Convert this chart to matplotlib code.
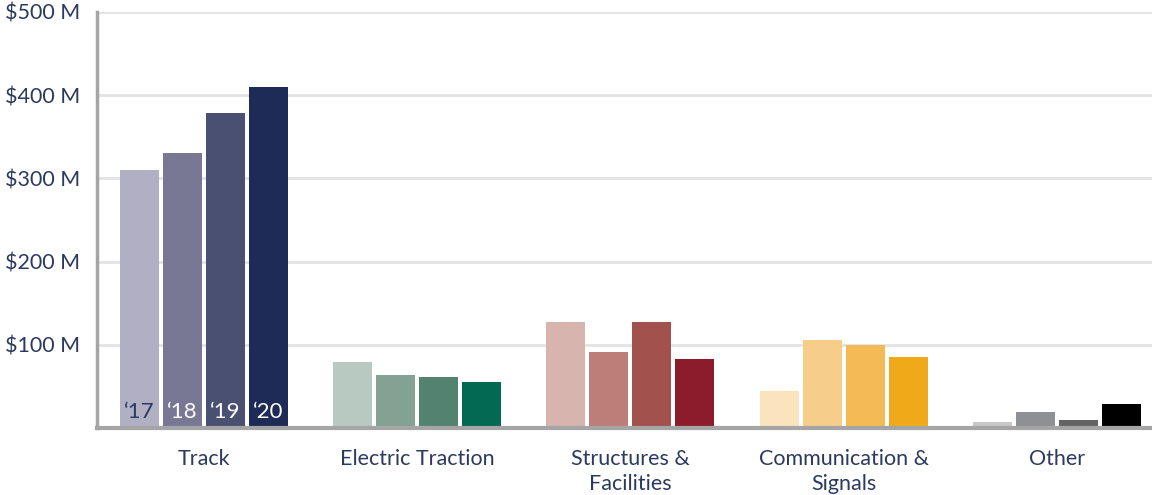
import matplotlib
matplotlib.use("Agg")
import matplotlib.pyplot as plt
import numpy as np

categories = ["Track", "Electric Traction", "Structures &\nFacilities", "Communication &\nSignals", "Other"]
years = ["\u201817", "\u201818", "\u201819", "\u201820"]
track = [310, 330, 379, 410]
electric = [80, 64, 62, 55]
structures = [127, 91, 128, 83]
communication = [45, 106, 100, 85]
other = [8, 20, 10, 29]
values = [track, electric, structures, communication, other]

colors = [
    ["#b1afc3", "#797894", "#4a5072", "#1e2b57"],
    ["#b8c9c2", "#84a294", "#538370", "#036953"],
    ["#d8b4ae", "#bc7f77", "#a3514c", "#8c1b2b"],
    ["#fbe3bd", "#f7cd8a", "#f3ba55", "#f0a918"],
    ["#c8c8c8", "#8f9093", "#636363", "#000000"],
]
yticks = [100, 200, 300, 400, 500]
ytick_labels = ["$100 M", "$200 M", "$300 M", "$400 M", "$500 M"]

text_color = "#2b3a5e"
plt.rcParams["font.family"] = ["Lato", "DejaVu Sans"]

fig = plt.figure(figsize=(11.52, 4.95), dpi=100)
ax = fig.add_axes([0.0842, 0.135, 0.926, 0.841])

step = 0.2016
width = 0.183
x = np.arange(len(categories))
for i, vals in enumerate(values):
    for j, v in enumerate(vals):
        xpos = x[i] + (j - 1.5) * step
        ax.bar(xpos, v, width=width, color=colors[i][j], zorder=3)
        if i == 0:
            ax.text(xpos, 7, years[j], ha="center", va="bottom", fontsize=16,
                    color=text_color if j == 0 else "white", zorder=4)

ax.set_xlim(-0.5, len(categories) - 0.5)
ax.set_ylim(0, 500)
ax.set_yticks(yticks)
ax.set_yticklabels(ytick_labels)
ax.set_xticks(x)
ax.set_xticklabels(categories)
ax.tick_params(axis="both", length=0, labelsize=15.5, colors=text_color)
ax.tick_params(axis="y", pad=12)
ax.tick_params(axis="x", pad=15)
for lbl in ax.get_xticklabels():
    lbl.set_verticalalignment("top")
    lbl.set_linespacing(1.3)
for lbl in ax.get_yticklabels():
    lbl.set_horizontalalignment("right")

ax.grid(axis="y", color="#e3e3e3", linewidth=2, zorder=0)
for s in ["top", "right"]:
    ax.spines[s].set_visible(False)
ax.spines["left"].set_color("#a5a5a5")
ax.spines["left"].set_linewidth(2.5)
ax.spines["bottom"].set_color("#a5a5a5")
ax.spines["bottom"].set_linewidth(3)
ax.spines["bottom"].set_zorder(5)

fig.savefig("out.png", dpi=100)
